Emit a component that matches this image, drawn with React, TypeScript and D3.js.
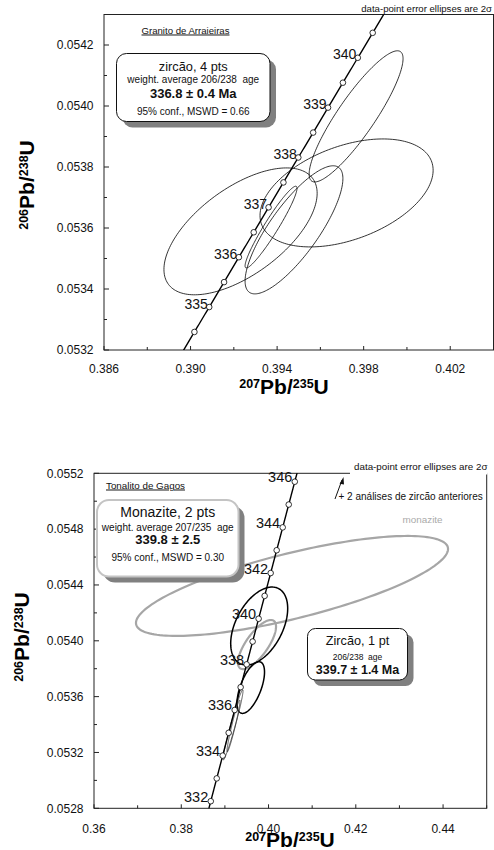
import React from "react";
import * as d3 from "d3";

const L238 = 1.55125e-10;
const L235 = 9.8485e-10;
const FONT = "'Liberation Sans', Arial, sans-serif";

// ---------- top panel data ----------
const topXTicks = [0.386, 0.39, 0.394, 0.398, 0.402];
const topXMinor = [0.388, 0.392, 0.396, 0.4, 0.404];
const topYTicks = [0.0532, 0.0534, 0.0536, 0.0538, 0.054, 0.0542];
const topYMinor = [0.0533, 0.0535, 0.0537, 0.0539, 0.0541];
const topMarkerAges = [334.5, 335, 335.5, 336, 336.5, 337, 337.5, 338, 338.5, 339, 339.5, 340, 340.5];
const topLabelAges = [335, 336, 337, 338, 339, 340];
const topEllCx = [0.39765, 0.39721, 0.39231, 0.39478, 0.39372];
const topEllCy = [0.053966, 0.053715, 0.053589, 0.053594, 0.053603];
const topEllEx = [0.00217, 0.0040, 0.00354, 0.00226, 0.0012];
const topEllEy = [0.000215, 0.000177, 0.000208, 0.00021, 0.000134];
const topEllRho = [0.88, 0.42, 0.6, 0.8, 0.95];

// ---------- bottom panel data ----------
const botXTicks = [0.36, 0.38, 0.4, 0.42, 0.44];
const botXMinor = [0.37, 0.39, 0.41, 0.43, 0.45];
const botYTicks = [0.0528, 0.0532, 0.0536, 0.054, 0.0544, 0.0548, 0.0552];
const botYMinor = [0.053, 0.0534, 0.0538, 0.0542, 0.0546, 0.055];
const botMarkerAges = [332, 333, 334, 335, 336, 337, 338, 339, 340, 341, 342, 343, 344, 345, 346];
const botLabelAges = [332, 334, 336, 338, 340, 342, 344, 346];
// kinds: g = grey monazite, k = black zircon, t = thin
const botEllKind = ["g", "g", "k", "k", "t", "t"];
const botEllCx = [0.40538, 0.39736, 0.39786, 0.39593, 0.39186, 0.39197];
const botEllCy = [0.054393, 0.053973, 0.054106, 0.053665, 0.053397, 0.05339];
const botEllEx = [0.03576, 0.00436, 0.00653, 0.00315, 0.00229, 0.00149];
const botEllEy = [0.000358, 0.000176, 0.000279, 0.000185, 0.000251, 0.000186];
const botEllRho = [0.74, 0.73, 0.45, 0.6, 0.97, 0.96];

function ellipsePts(cx: number, cy: number, ex: number, ey: number, rho: number) {
  const pts: [number, number][] = [];
  const s = Math.sqrt(1 - rho * rho);
  for (let i = 0; i < 180; i++) {
    const t = (i / 180) * Math.PI * 2;
    pts.push([cx + ex * Math.cos(t), cy + ey * (rho * Math.cos(t) + s * Math.sin(t))]);
  }
  return pts;
}

function concordiaPt(t: number): [number, number] {
  return [Math.expm1(L235 * t * 1e6), Math.expm1(L238 * t * 1e6)];
}

function AxisLabel({ x, y, a, b, rotate }: any) {
  return (
    <text
      x={x}
      y={y}
      textAnchor="middle"
      fontFamily={FONT}
      fontWeight="bold"
      transform={rotate ? `rotate(-90 ${x} ${y})` : undefined}
    >
      <tspan fontSize={12.5} dy={-6.5}>{a}</tspan>
      <tspan fontSize={21} dy={6.5}>Pb/</tspan>
      <tspan fontSize={12.5} dy={-6.5}>{b}</tspan>
      <tspan fontSize={21} dy={6.5}>U</tspan>
    </text>
  );
}

function Frame({ x, y, xTicks, xMinor, yTicks, yMinor, xFmt, yFmt, xLabelY }: any) {
  const [x0, x1] = x.range();
  const [y0, y1] = y.range();
  return (
    <g>
      <rect x={x0} y={y1} width={x1 - x0} height={y0 - y1} fill="none" stroke="#222" strokeWidth={1} />
      {xTicks.map((v: number) => (
        <g key={"xt" + v}>
          <line x1={x(v)} x2={x(v)} y1={y0} y2={y0 - 4} stroke="#222" />
          <text x={x(v)} y={xLabelY} textAnchor="middle" fontSize={12} fontFamily={FONT} fill="#111">
            {xFmt(v)}
          </text>
        </g>
      ))}
      {xMinor.map((v: number) => (
        <line key={"xm" + v} x1={x(v)} x2={x(v)} y1={y0} y2={y0 - 3} stroke="#222" />
      ))}
      {yTicks.map((v: number) => (
        <g key={"yt" + v}>
          <line x1={x0} x2={x0 + 5} y1={y(v)} y2={y(v)} stroke="#222" />
          <text x={x0 - 10.5} y={y(v) + 4.3} textAnchor="end" fontSize={12} fontFamily={FONT} fill="#111">
            {yFmt(v)}
          </text>
        </g>
      ))}
      {yMinor.map((v: number) => (
        <line key={"ym" + v} x1={x0} x2={x0 + 3} y1={y(v)} y2={y(v)} stroke="#222" />
      ))}
    </g>
  );
}

function Concordia({ x, y, ages, labels, t0, t1, clipId, r, lx, ly, fs }: any) {
  const [xa, xb] = x.range();
  const [ya, yb] = y.range();
  const pts: [number, number][] = [];
  for (let t = t0; t <= t1 + 1e-9; t += 0.05) pts.push(concordiaPt(t));
  const line = d3.line<[number, number]>().x((d) => x(d[0])).y((d) => y(d[1]));
  return (
    <g>
      <clipPath id={clipId}>
        <rect x={xa} y={yb} width={xb - xa} height={ya - yb} />
      </clipPath>
      <path d={line(pts) || ""} fill="none" stroke="#000" strokeWidth={1.4} clipPath={`url(#${clipId})`} />
      {labels.map((a: number) => {
        const p = concordiaPt(a);
        return (
          <text key={"l" + a} x={x(p[0]) + lx} y={y(p[1]) + ly} textAnchor="end" fontSize={fs} fontFamily={FONT} fill="#111">
            {a}
          </text>
        );
      })}
      {ages.map((a: number) => {
        const p = concordiaPt(a);
        return <circle key={"m" + a} cx={x(p[0])} cy={y(p[1])} r={r} fill="#fff" stroke="#000" strokeWidth={0.8} />;
      })}
    </g>
  );
}

function Box({ x, y, w, h, rx, stroke, sw, lines }: any) {
  return (
    <g>
      <rect x={x + 6} y={y + 6} width={w} height={h} rx={rx} fill="#808080" />
      <rect x={x} y={y} width={w} height={h} rx={rx} fill="#fff" stroke={stroke} strokeWidth={sw} />
      {lines.map((l: any, i: number) => (
        <text key={i} x={x + w / 2} y={l.y} textAnchor="middle" fontSize={l.fs} fontWeight={l.b ? "bold" : "normal"}
          fontFamily={FONT} fill="#111" xmlSpace="preserve" style={{ whiteSpace: "pre" }}>
          {l.t}
        </text>
      ))}
    </g>
  );
}

export default function App() {
  const xT = d3.scaleLinear().domain([0.386, 0.404]).range([104, 493.5]);
  const yT = d3.scaleLinear().domain([0.0532, 0.0543]).range([350, 14.5]);
  const xB = d3.scaleLinear().domain([0.36, 0.45]).range([94, 486.7]);
  const yB = d3.scaleLinear().domain([0.0528, 0.0552]).range([808.3, 473.3]);

  const eLineT = d3.line<[number, number]>().x((d) => xT(d[0])).y((d) => yT(d[1])).curve(d3.curveLinearClosed);
  const eLineB = d3.line<[number, number]>().x((d) => xB(d[0])).y((d) => yB(d[1])).curve(d3.curveLinearClosed);

  return (
    <svg width={494} height={850} style={{ position: "absolute", left: 0, top: 0, background: "#fff" }}>
      <rect x={0} y={0} width={494} height={850} fill="#fff" />
      {/* ---------- TOP PANEL ---------- */}
      <g>
        {topEllCx.map((cx, i) => (
          <path
            key={"te" + i}
            d={eLineT(ellipsePts(cx, topEllCy[i], topEllEx[i], topEllEy[i], topEllRho[i])) || ""}
            fill="none"
            stroke="#000"
            strokeWidth={0.8}
          />
        ))}
        <Frame x={xT} y={yT} xTicks={topXTicks} xMinor={topXMinor} yTicks={topYTicks} yMinor={topYMinor}
          xFmt={d3.format(".3f")} yFmt={d3.format(".4f")} xLabelY={373} />
        <Concordia x={xT} y={yT} ages={topMarkerAges} labels={topLabelAges} t0={333.5} t1={341.5} clipId="clipT"
          r={2.8} lx={-1.5} ly={1.5} fs={14} />
        <text x={492} y={11.5} textAnchor="end" fontSize={9.6} fontFamily={FONT} fill="#111">
          data-point error ellipses are 2σ
        </text>
        <text x={141.5} y={33.5} fontSize={9.6} fontFamily={FONT} fill="#111" textDecoration="underline">
          Granito de Arraieiras
        </text>
        <Box x={116.5} y={53.5} w={153.5} h={68} rx={10} stroke="#111" sw={1}
          lines={[
            { t: "zircão, 4 pts", y: 71, fs: 12.8 },
            { t: "weight. average 206/238  age", y: 83, fs: 10 },
            { t: "336.8 ± 0.4 Ma", y: 97.5, fs: 13, b: true },
            { t: "95% conf., MSWD = 0.66", y: 114.5, fs: 10 },
          ]} />
        <AxisLabel x={284} y={394} a="207" b="235" />
        <AxisLabel x={34} y={185} a="206" b="238" rotate />
      </g>

      {/* ---------- BOTTOM PANEL ---------- */}
      <g>
        {botEllCx.map((cx, i) => {
          const k = botEllKind[i];
          return (
            <path
              key={"be" + i}
              d={eLineB(ellipsePts(cx, botEllCy[i], botEllEx[i], botEllEy[i], botEllRho[i])) || ""}
              fill="none"
              stroke={k === "g" ? "#a6a6a6" : k === "k" ? "#000" : "#333"}
              strokeWidth={k === "g" ? 2.2 : k === "k" ? 1.5 : 0.8}
            />
          );
        })}
        <Frame x={xB} y={yB} xTicks={botXTicks} xMinor={botXMinor} yTicks={botYTicks} yMinor={botYMinor}
          xFmt={d3.format(".2f")} yFmt={d3.format(".4f")} xLabelY={833} />
        <Concordia x={xB} y={yB} ages={botMarkerAges} labels={botLabelAges} t0={331.5} t1={347} clipId="clipB"
          r={2.8} lx={-2.5} ly={0.5} fs={14.5} />
        <rect x={350} y={462} width={137.5} height={12.5} fill="#fff" />
        <text x={487.5} y={470} textAnchor="end" fontSize={9.8} fontFamily={FONT} fill="#111">
          data-point error ellipses are 2σ
        </text>
        <text x={106} y={488.5} fontSize={9.8} fontFamily={FONT} fill="#111" textDecoration="underline">
          Tonalito de Gagos
        </text>
        <line x1={335} y1={499} x2={342} y2={480} stroke="#111" strokeWidth={1} />
        <path d="M343.5,477 L339.6,483.8 L344,484.6 Z" fill="#111" />
        <text x={338.5} y={499.5} fontSize={10} fontFamily={FONT} fill="#111">
          + 2 análises de zircão anteriores
        </text>
        <text x={402.5} y={523} fontSize={9.9} fontFamily={FONT} fill="#aaa">
          monazite
        </text>
        <Box x={97} y={500} w={141.5} h={76.5} rx={12} stroke="#c4c4c4" sw={2}
          lines={[
            { t: "Monazite, 2 pts", y: 517, fs: 14 },
            { t: "weight. average 207/235  age", y: 530.5, fs: 10 },
            { t: "339.8 ± 2.5", y: 544, fs: 13, b: true },
            { t: "95% conf., MSWD = 0.30", y: 561, fs: 10 },
          ]} />
        <Box x={307.5} y={628.5} w={100} h={51.5} rx={8} stroke="#111" sw={1}
          lines={[
            { t: "Zircão, 1 pt", y: 645, fs: 12.7 },
            { t: "206/238  age", y: 659.5, fs: 8.5 },
            { t: "339.7 ± 1.4 Ma", y: 674, fs: 12.5, b: true },
          ]} />
        <AxisLabel x={290} y={847} a="207" b="235" />
        <AxisLabel x={29} y={637} a="206" b="238" rotate />
      </g>
    </svg>
  );
}
